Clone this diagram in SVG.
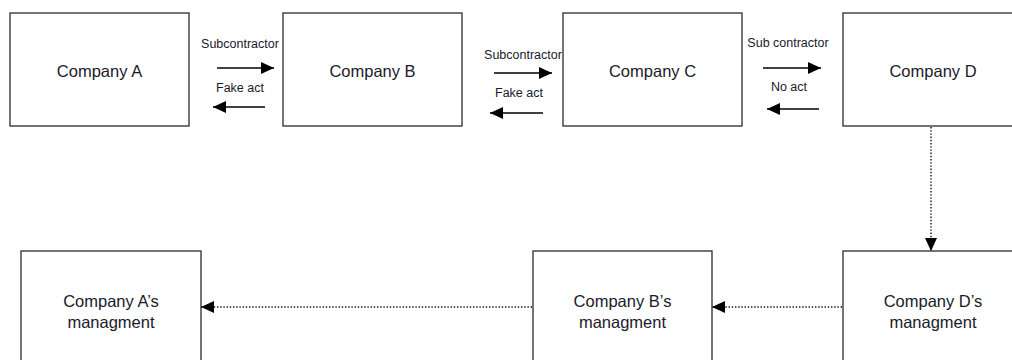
<svg xmlns="http://www.w3.org/2000/svg" width="1012" height="360" viewBox="0 0 1012 360">
<style>
.box{fill:#fff;stroke:#3a3a3a;stroke-width:1.4}
.t{font-family:"Liberation Sans",Arial,sans-serif;font-size:16.5px;fill:#1a1a2a;text-anchor:middle}
.s{font-family:"Liberation Sans",Arial,sans-serif;font-size:12.5px;fill:#1a1a2a;text-anchor:middle}
.a{stroke:#000;stroke-width:1.5;fill:none}
.d{stroke:#111;stroke-width:1.4;fill:none;stroke-dasharray:1.4 1.8}
</style>
<defs>
<marker id="ah" markerWidth="13" markerHeight="12" refX="13" refY="6" orient="auto" markerUnits="userSpaceOnUse">
<path d="M0,0 L13,6 L0,12 Z" fill="#000"/>
</marker>
</defs>
<rect width="1012" height="360" fill="#fff"/>
<g id="companyA"><rect class="box" x="10" y="13" width="179" height="113"/><text class="t" x="99.5" y="77">Company A</text></g>
<g id="companyB"><rect class="box" x="283" y="13" width="179" height="113"/><text class="t" x="372.5" y="77">Company B</text></g>
<g id="companyC"><rect class="box" x="563" y="13" width="179" height="113"/><text class="t" x="652.5" y="77">Company C</text></g>
<g id="companyD"><rect class="box" x="843" y="13" width="180" height="113"/><text class="t" x="933" y="77">Company D</text></g>
<g id="mgmtA"><rect class="box" x="21" y="251" width="180" height="120"/><text class="t" x="111" y="307">Company A’s</text><text class="t" x="111" y="328">managment</text></g>
<g id="mgmtB"><rect class="box" x="533" y="251" width="179" height="120"/><text class="t" x="622.5" y="307">Company B’s</text><text class="t" x="622.5" y="328">managment</text></g>
<g id="mgmtD"><rect class="box" x="843" y="251" width="180" height="120"/><text class="t" x="933" y="307">Company D’s</text><text class="t" x="933" y="328">managment</text></g>
<g id="connectors">
<line class="a" x1="217" y1="68" x2="274" y2="68" marker-end="url(#ah)"/>
<line class="a" x1="265" y1="107" x2="213" y2="107" marker-end="url(#ah)"/>
<line class="a" x1="494" y1="73" x2="552" y2="73" marker-end="url(#ah)"/>
<line class="a" x1="543" y1="113" x2="490" y2="113" marker-end="url(#ah)"/>
<line class="a" x1="763" y1="68" x2="821" y2="68" marker-end="url(#ah)"/>
<line class="a" x1="819" y1="109" x2="767" y2="109" marker-end="url(#ah)"/>
<line class="d" x1="931" y1="127" x2="931" y2="251" marker-end="url(#ah)"/>
<line class="d" x1="842" y1="307" x2="712" y2="307" marker-end="url(#ah)"/>
<line class="d" x1="532" y1="307" x2="201" y2="307" marker-end="url(#ah)"/>
</g>
<g id="labels">
<text class="s" x="240" y="48">Subcontractor</text>
<text class="s" x="240" y="92">Fake act</text>
<text class="s" x="523" y="59">Subcontractor</text>
<text class="s" x="519" y="97">Fake act</text>
<text class="s" x="788" y="47">Sub contractor</text>
<text class="s" x="789" y="91">No act</text>
</g>
</svg>
